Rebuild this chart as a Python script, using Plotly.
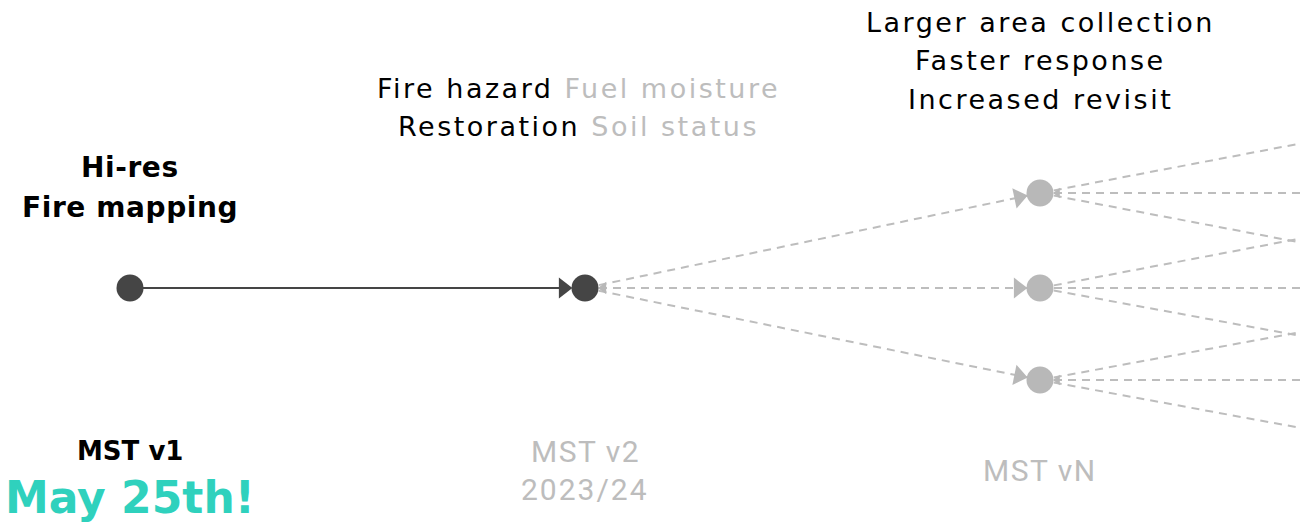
import math
import plotly.graph_objects as go

# ---- data ----
node_names = ["v1", "v2", "vN_a", "vN_b", "vN_c", "n1", "n2", "n3", "n4", "n5"]
node_x = [130, 585, 1040, 1040, 1040, 1540, 1540, 1540, 1540, 1540]
node_y = [288, 288, 193, 288, 380, 98, 193, 288, 380, 472]
node_color = ["#454545", "#454545", "#b8b8b8", "#b8b8b8", "#b8b8b8", None, None, None, None, None]

solid_edges = [("v1", "v2")]
dashed_edges = [("v2", "vN_a"), ("v2", "vN_b"), ("v2", "vN_c"),
                ("vN_a", "n1"), ("vN_a", "n2"), ("vN_a", "n3"),
                ("vN_b", "n2"), ("vN_b", "n3"), ("vN_b", "n4"),
                ("vN_c", "n3"), ("vN_c", "n4"), ("vN_c", "n5")]
# arrowheads: (from, to, size, colour)
arrows = [("v1", "v2", 18, "#454545"), ("v2", "vN_a", 18, "#b8b8b8"),
          ("v2", "vN_b", 18, "#b8b8b8"), ("v2", "vN_c", 18, "#b8b8b8"),
          ("vN_b", "v2", 11, "#b8b8b8"), ("n2", "vN_a", 9, "#b8b8b8"),
          ("n4", "vN_c", 9, "#b8b8b8")]

BLACK = "#000000"
GRAY = "#bdbdbd"
TEAL = "#2fd1bd"

pos = {n: (x, y) for n, x, y in zip(node_names, node_x, node_y)}
R = 13.5

fig = go.Figure()

for a, b in dashed_edges:
    (x0, y0), (x1, y1) = pos[a], pos[b]
    fig.add_trace(go.Scatter(x=[x0, x1], y=[y0, y1], mode="lines",
                             line=dict(color="#bdbdbd", dash="8px,6px", width=2),
                             hoverinfo="skip", showlegend=False))
for a, b in solid_edges:
    (x0, y0), (x1, y1) = pos[a], pos[b]
    fig.add_trace(go.Scatter(x=[x0, x1 - R - 10], y=[y0, y1], mode="lines",
                             line=dict(color="#454545", width=2),
                             hoverinfo="skip", showlegend=False))

# arrowheads
for a, b, size, col in arrows:
    (x0, y0), (x1, y1) = pos[a], pos[b]
    d = math.hypot(x1 - x0, y1 - y0)
    ux, uy = (x1 - x0) / d, (y1 - y0) / d
    back = R + size * 0.45
    cx, cy = x1 - ux * back, y1 - uy * back
    ang = math.degrees(math.atan2(uy, ux))
    fig.add_trace(go.Scatter(x=[cx], y=[cy], mode="markers",
                             marker=dict(symbol="triangle-right", size=size, color=col,
                                         angle=ang, line=dict(width=0)),
                             hoverinfo="skip", showlegend=False))

# nodes
vis = [i for i, c in enumerate(node_color) if c]
fig.add_trace(go.Scatter(x=[node_x[i] for i in vis], y=[node_y[i] for i in vis],
                         mode="markers",
                         marker=dict(size=2 * R, color=[node_color[i] for i in vis],
                                     line=dict(width=0)),
                         hoverinfo="skip", showlegend=False))

FONT = "DejaVu Sans, Poppins, sans-serif"
FONT2 = "Roboto, Inter, sans-serif"

def seg(s, ls, color=None):
    st = f"letter-spacing:{ls}px"
    if color:
        st = f"color:{color};" + st
    return f"<span style='{st}'>{s}</span>"

def txt(x, y, s, size, color, weight="normal", family=FONT):
    fig.add_annotation(x=x, y=y, text=s, showarrow=False, xanchor="center", yanchor="middle",
                       font=dict(family=family, size=size, color=color, weight=weight))

txt(130, 167, seg("Hi-res", 0.6), 28, BLACK, "bold")
txt(130, 207, seg("Fire mapping", 0.6), 28, BLACK, "bold")
txt(130, 451, seg("MST v1", 0), 26, BLACK, "bold")
txt(130, 497, seg("May 25th!", 0), 44, TEAL, "bold")

txt(578, 88, seg("Fire hazard ", 2.5) + seg("Fuel moisture", 2.5, GRAY), 27, BLACK)
txt(578, 126, seg("Restoration ", 2.5) + seg("Soil status", 2.5, GRAY), 27, BLACK)
txt(585, 451, seg("MST v2", 1.5), 30, GRAY, family=FONT2)
txt(585, 489, seg("2023/24", 2), 30, GRAY, family=FONT2)

txt(1040, 22, seg("Larger area collection", 2.5), 27, BLACK)
txt(1040, 60, seg("Faster response", 2.5), 27, BLACK)
txt(1040, 99, seg("Increased revisit", 2.5), 27, BLACK)
txt(1040, 470, seg("MST vN", 1.5), 30, GRAY, family=FONT2)

fig.update_xaxes(range=[0, 1301], visible=False, fixedrange=True)
fig.update_yaxes(range=[527, 0], visible=False, fixedrange=True)
fig.update_layout(width=1301, height=527, margin=dict(l=0, r=0, t=0, b=0),
                  plot_bgcolor="white", paper_bgcolor="white")

fig.write_html("out.html", config={"displayModeBar": False},
               post_script="document.body.style.margin='0';document.body.style.overflow='hidden';")
